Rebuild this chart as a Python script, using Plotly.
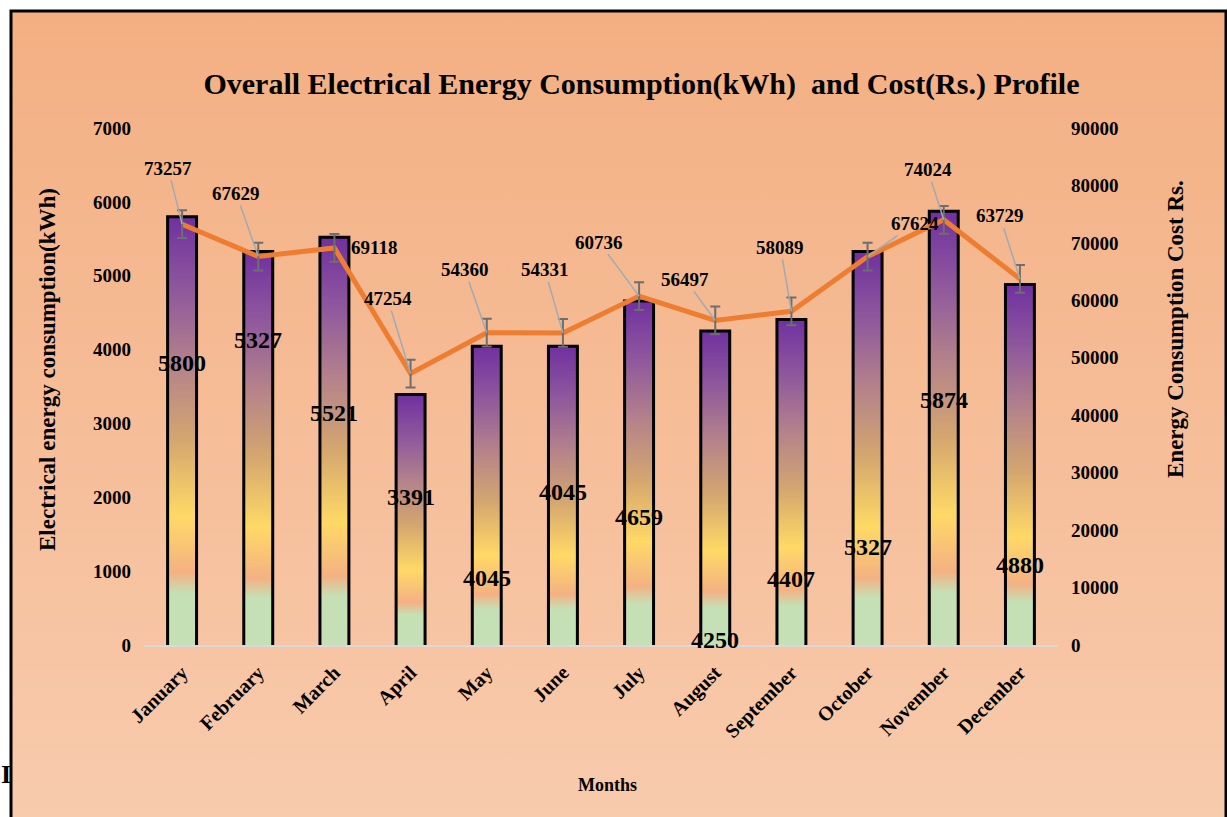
import base64
import plotly.graph_objects as go

# ---------------- data ----------------
months = ["January", "February", "March", "April", "May", "June", "July",
          "August", "September", "October", "November", "December"]
energy_kwh = [5800, 5327, 5521, 3391, 4045, 4045, 4659, 4250, 4407, 5327, 5874, 4880]
cost_rs = [73257, 67629, 69118, 47254, 54360, 54331, 60736, 56497, 58089, 67624, 74024, 63729]
cost_err = [2414, 2414, 2414, 2414, 2414, 2414, 2414, 2414, 2414, 2414, 2414, 2414]

# label placement (positions, not data)
bar_label_y = [3818, 4129, 3141, 2004, 907, 2071, 1733, 68, 894, 1327, 3317, 1083]
cost_label_offsets = [(-14, -56), (-22, -63), None, (-23, -75), (-22, -63), (-18, -63),
                      (-40, -54), (-30, -41), (-11, -64), (47, -33), (-16, -50), (-20, -63)]

# ---------------- layout constants ----------------
W, H = 1227, 817
L, R, T, B = 144, 169, 128, 172
PW, PH = W - L - R, H - T - B
FONT = "Liberation Serif"


def px_x(px):
    return (px - L) / PW


def px_y(py):
    return (H - B - py) / PH


half_w = 0.19
bar_scale = [[0.0, "#C5E0B4"], [0.12, "#C5E0B4"], [0.17, "#F4B183"], [0.30, "#FFD966"],
             [0.48, "#D4A66F"], [0.65, "#B5838A"], [0.82, "#905A9C"], [1.0, "#7030A0"]]

fig = go.Figure()

# gradient-filled bars
for i, v in enumerate(energy_kwh):
    fig.add_trace(go.Scatter(
        x=[i - half_w, i + half_w, i + half_w, i - half_w, i - half_w],
        y=[0, 0, v, v, 0],
        mode="lines", fill="toself",
        fillgradient=dict(type="vertical", colorscale=bar_scale),
        line=dict(width=0), hoverinfo="skip", showlegend=False,
    ))

# bar outlines (three sides)
ox, oy = [], []
for i, v in enumerate(energy_kwh):
    ox += [i - half_w, i - half_w, i + half_w, i + half_w, None]
    oy += [0, v, v, 0, None]
fig.add_trace(go.Scatter(x=ox, y=oy, mode="lines", line=dict(color="black", width=3),
                         hoverinfo="skip", showlegend=False))

# cost line
xs = list(range(len(months)))
fig.add_trace(go.Scatter(x=xs, y=cost_rs, yaxis="y2", mode="lines",
                         line=dict(color="#ED7D31", width=5), showlegend=False))
# error bars
fig.add_trace(go.Scatter(x=xs, y=cost_rs, yaxis="y2", mode="markers",
                         marker=dict(size=1, color="rgba(0,0,0,0)"),
                         error_y=dict(type="data", array=cost_err, color="#6E6E6E",
                                      thickness=2, width=5),
                         showlegend=False))

annotations = []
# bar value labels
for i, (v, ly) in enumerate(zip(energy_kwh, bar_label_y)):
    annotations.append(dict(x=i, y=ly, xref="x", yref="y", text=str(v), showarrow=False,
                            xanchor="center", yanchor="middle",
                            font=dict(family=FONT, size=24, color="black", weight="bold")))
# cost labels with leader lines
for i, (c, off) in enumerate(zip(cost_rs, cost_label_offsets)):
    if off is None:
        annotations.append(dict(x=i, y=c, xref="x", yref="y2", text=str(c), showarrow=False,
                                xanchor="center", yanchor="middle",
                                xshift=40, font=dict(family=FONT, size=19, color="black",
                                                     weight="bold")))
    else:
        annotations.append(dict(x=i, y=c, xref="x", yref="y2", text=str(c), showarrow=True,
                                ax=off[0], ay=off[1], arrowhead=0, arrowwidth=1.5,
                                arrowcolor="#9FAAB4", standoff=0,
                                font=dict(family=FONT, size=19, color="black",
                                          weight="bold")))


def paper_text(px, py, text, size, angle=0, xanchor="center"):
    return dict(x=px_x(px), y=px_y(py), xref="paper", yref="paper", text=text,
                textangle=angle, showarrow=False, xanchor=xanchor, yanchor="middle",
                font=dict(family=FONT, size=size, color="black", weight="bold"))


annotations.append(paper_text(47, 370, "Electrical energy consumption(kWh)", 23, -90))
annotations.append(paper_text(1175, 329, "Energy Consumption Cost Rs.", 23, -90))
annotations.append(paper_text(607, 785, "Months", 18))
annotations.append(paper_text(-1, 774, "I", 26, xanchor="left"))

# gradient background image
svg = ('<svg xmlns="http://www.w3.org/2000/svg" width="100" height="100" viewBox="0 0 100 100" '
       'preserveAspectRatio="none"><defs><linearGradient id="g" x1="0" y1="0" x2="0" y2="1">'
       '<stop offset="0" stop-color="#F3AF82"/><stop offset="1" stop-color="#F8CBAD"/>'
       '</linearGradient></defs><rect width="100" height="100" fill="url(#g)"/></svg>')
src = "data:image/svg+xml;base64," + base64.b64encode(svg.encode()).decode()

tick_font = dict(family=FONT, size=19, color="black", weight="bold")

fig.update_layout(
    width=W, height=H,
    margin=dict(l=L, r=R, t=T, b=B, autoexpand=False),
    paper_bgcolor="white", plot_bgcolor="rgba(0,0,0,0)",
    showlegend=False,
    title=dict(text="Overall Electrical Energy Consumption(kWh) \u00a0and Cost(Rs.) Profile",
               x=px_x(641.5), xref="paper", xanchor="center",
               y=1 - 83 / H, yref="container", yanchor="middle",
               font=dict(family=FONT, size=30, color="black", weight="bold")),
    xaxis=dict(range=[-0.5, 11.5], tickvals=xs, ticktext=months, tickangle=-45,
               showgrid=False, zeroline=False, showline=True, linecolor="#D9D9D9",
               linewidth=2, ticks="", ticklabelstandoff=6,
               tickfont=dict(family=FONT, size=20, color="black", weight="bold")),
    yaxis=dict(range=[0, 7000], dtick=1000, showgrid=False, zeroline=False, showline=False,
               ticks="", ticklabelstandoff=12, tickformat="d", tickfont=tick_font),
    yaxis2=dict(range=[0, 90000], dtick=10000, overlaying="y", side="right",
                showgrid=False, zeroline=False, showline=False, ticks="",
                ticklabelstandoff=12, tickformat="d", tickfont=tick_font),
    annotations=annotations,
    images=[dict(source=src, xref="paper", yref="paper",
                 x=px_x(11), y=px_y(11), sizex=px_x(W + 10) - px_x(11),
                 sizey=px_y(11) - px_y(H + 10), sizing="stretch", layer="below",
                 xanchor="left", yanchor="top")],
    shapes=[dict(type="rect", xref="paper", yref="paper",
                 x0=px_x(11), x1=px_x(1226), y0=px_y(H + 20), y1=px_y(11),
                 line=dict(color="black", width=3), fillcolor="rgba(0,0,0,0)",
                 layer="above")],
)

fig.write_html("out.html", config={"displayModeBar": False},
               post_script="document.body.style.margin='0';")
